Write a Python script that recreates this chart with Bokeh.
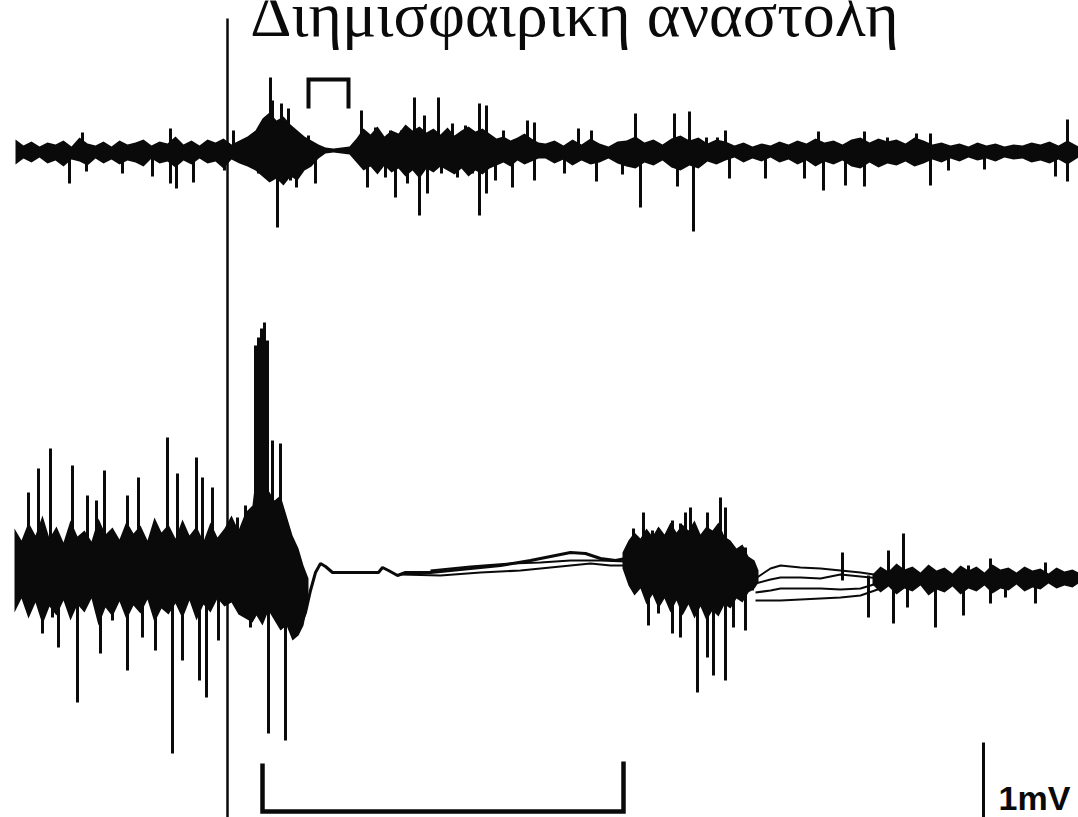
from bokeh.plotting import figure
from bokeh.models import Range1d
from bokeh.embed import file_html
from bokeh.resources import INLINE
from bokeh.core.properties import value

# ---------------- text ----------------
TITLE = "Διημισφαιρικη αναστολη"
SCALE_LABEL = "1mV"

# ---------------- markers (time / amplitude readings) ----------------
stimulus_t = 227
short_window = [308, 348]
long_window = [262, 623]
scale_bar_t = 983
scale_bar_span = [742, 817]

# ---------------- upper trace: dense activity envelope ----------------
top_env_x = [15, 23, 31, 39, 47, 55, 63, 71, 79, 87, 95, 103, 111, 119, 127, 135, 143, 151,
             159, 167, 175, 183, 191, 199, 207, 215, 223, 231, 239, 247,
             255, 262, 269, 276, 283, 290, 297, 304, 311, 318,
             325, 333, 341, 349,
             356, 363, 370, 377, 384, 391, 398, 405, 412, 419, 426, 433, 440, 447, 454,
             461, 468, 475, 482, 489, 496, 503, 510, 517, 524, 531, 538,
             545, 554, 563, 572, 581, 590, 599, 608, 617, 626, 635, 644, 653, 662, 671,
             680, 689, 698, 707, 716, 725, 734, 743, 752, 761, 770, 779, 788, 797, 806,
             815, 824, 833, 842, 851, 860, 869, 878, 887, 896, 905, 914, 923, 932, 941,
             950, 959, 968, 977, 986, 995, 1004, 1013, 1022, 1031, 1040, 1049, 1058,
             1067, 1078]
top_env_hi = [139, 145, 141, 146, 142, 144, 140, 146, 137, 143, 145, 141, 146, 140, 144, 142,
              139, 145, 141, 143, 136, 144, 140, 145, 139, 142, 138, 144, 140, 136,
              130, 118, 112, 120, 116, 124, 130, 136, 140, 144,
              147, 148, 147, 146,
              138, 128, 134, 126, 136, 130, 133, 124, 130, 126, 132, 128, 134, 127, 135,
              130, 126, 131, 128, 133, 138, 136, 140, 137, 133, 138, 142,
              143, 140, 145, 139, 144, 138, 143, 146, 141, 140, 136, 142, 139, 144, 138,
              135, 140, 137, 143, 139, 141, 145, 142, 146, 143, 145, 141, 144, 140, 143,
              138, 142, 140, 144, 139, 137, 142, 138, 141, 139, 143, 137, 140, 144, 142,
              145, 143, 146, 142, 145, 143, 146, 144, 145, 142, 144, 141, 145,
              140, 146]
top_env_lo = [164, 158, 162, 157, 163, 160, 166, 159, 161, 165, 158, 163, 159, 164, 160, 162,
              166, 158, 163, 161, 167, 160, 164, 158, 163, 161, 168, 159, 163, 166,
              170, 176, 182, 178, 185, 176, 180, 170, 166, 158,
              153, 152, 153, 154,
              162, 170, 166, 174, 165, 172, 168, 176, 170, 178, 168, 172, 166, 170, 174,
              168, 176, 170, 174, 168, 165, 162, 166, 160, 164, 161, 158,
              158, 163, 159, 165, 160, 164, 162, 158, 163, 166, 168, 162, 165, 160, 167,
              170, 165, 168, 161, 164, 160, 157, 162, 158, 161, 157, 162, 159, 164, 160,
              166, 161, 164, 160, 166, 168, 162, 167, 163, 165, 161, 166, 163, 159, 162,
              158, 161, 157, 160, 158, 161, 157, 159, 158, 162, 160, 163, 159,
              164, 157]

# upper trace: individual spikes (time, upper tip, lower tip)
top_spike_t = [69, 82, 86, 122, 152, 170, 176, 193, 224, 233, 258, 270, 272, 277, 281, 288,
               290, 296, 308, 315, 361, 367, 375, 385, 390, 395, 401, 407, 414, 419, 424,
               427, 438, 441, 452, 457, 465, 472, 479, 486, 495, 503, 512, 527, 534, 564,
               578, 591, 596, 622, 635, 640, 674, 677, 689, 693, 706, 717, 725, 729, 765,
               804, 818, 823, 845, 864, 887, 916, 930, 948, 984, 1055, 1067]
top_spike_hi = [150, 132, 150, 150, 150, 128, 150, 150, 150, 130, 130, 77, 100, 150, 103, 108,
                150, 150, 135, 150, 110, 150, 127, 150, 130, 150, 130, 150, 97, 150, 115,
                150, 97, 150, 123, 150, 125, 150, 103, 105, 150, 130, 150, 120, 122, 150,
                128, 130, 150, 150, 113, 150, 113, 150, 111, 150, 137, 137, 130, 150, 150,
                150, 131, 150, 150, 131, 137, 133, 133, 150, 150, 150, 119]
top_spike_lo = [183, 155, 171, 173, 176, 183, 188, 182, 170, 150, 173, 150, 165, 227, 160, 170,
                180, 187, 160, 183, 160, 187, 160, 177, 155, 197, 160, 183, 160, 215, 160,
                193, 160, 173, 160, 177, 160, 173, 215, 193, 180, 155, 187, 155, 180, 173,
                155, 155, 181, 174, 160, 207, 160, 186, 160, 231, 155, 155, 155, 178, 178,
                178, 155, 190, 185, 186, 155, 155, 185, 170, 169, 176, 181]

# ---------------- lower trace ----------------
bot_b1_x = [14, 21, 28, 35, 42, 49, 56, 63, 70, 77, 84, 91, 98, 105, 112, 119, 126, 133, 140,
            147, 154, 161, 168, 175, 182, 189, 196, 203, 210, 217, 224, 231, 238, 245, 252,
            256, 262, 268, 274, 280, 286, 292, 298, 303, 308]
bot_b1_hi = [528, 540, 522, 535, 515, 538, 526, 542, 520, 536, 530, 541, 518, 534, 527, 539,
             521, 533, 525, 540, 517, 532, 524, 538, 519, 535, 526, 541, 522, 537, 528, 515,
             530, 512, 505, 470, 460, 490, 500, 495, 515, 535, 548, 565, 578]
bot_b1_lo = [612, 598, 618, 602, 624, 606, 615, 600, 620, 604, 612, 598, 625, 607, 616, 601,
             619, 605, 613, 599, 622, 608, 614, 603, 618, 600, 620, 604, 612, 598, 606, 602,
             614, 618, 622, 615, 625, 610, 620, 630, 625, 640, 635, 625, 600]

bot_b2_x = [622, 628, 634, 640, 646, 652, 658, 664, 670, 676, 682, 688, 694, 700, 706, 712,
            718, 724, 730, 736, 742, 748, 754, 758]
bot_b2_hi = [552, 540, 532, 538, 528, 536, 526, 534, 522, 532, 524, 530, 520, 534, 526, 530,
             522, 536, 540, 548, 544, 556, 560, 570]
bot_b2_lo = [568, 585, 595, 588, 604, 594, 608, 598, 612, 600, 615, 604, 618, 606, 620, 610,
             616, 604, 608, 598, 602, 592, 588, 582]

bot_tail_x = [872, 880, 888, 896, 904, 912, 920, 928, 936, 944, 952, 960, 968, 976, 984, 992,
              1000, 1008, 1016, 1024, 1032, 1040, 1048, 1056, 1064, 1072, 1078]
bot_tail_hi = [574, 566, 571, 563, 569, 566, 572, 564, 570, 567, 573, 565, 570, 566, 572, 564,
               569, 567, 572, 566, 570, 568, 573, 567, 571, 569, 572]
bot_tail_lo = [584, 592, 586, 594, 588, 591, 585, 595, 589, 592, 586, 594, 588, 591, 585, 593,
               588, 590, 584, 591, 587, 589, 583, 588, 585, 587, 583]

# silent period: superimposed sweeps
silent1_x = [300, 305, 310, 315, 320, 325, 332, 360, 378, 382, 388, 397, 405, 430, 450, 470,
             500, 530, 550, 570, 585, 600, 615, 625]
silent1_y = [625, 612, 590, 572, 563, 566, 572, 572, 572, 567, 570, 575, 572, 572, 570, 568,
             565, 560, 556, 552, 553, 558, 560, 558]
silent2_x = [400, 440, 480, 520, 560, 590, 610, 625]
silent2_y = [574, 575, 572, 570, 566, 563, 565, 565]
silent3_x = [430, 470, 510, 540, 570, 600, 625]
silent3_y = [570, 566, 563, 562, 560, 560, 561]

# after rebound burst: diverging sweeps
post_x = [755, 770, 780, 800, 820, 840, 860, 880]
post_a = [578, 568, 565, 567, 568, 570, 572, 575]
post_b = [583, 579, 577, 577, 578, 574, 576, 578]
post_c = [592, 590, 588, 588, 588, 589, 588, 582]
post_d = [600, 600, 600, 599, 598, 597, 595, 588]

bot_spike_t = [28, 38, 42, 50, 52, 58, 72, 77, 87, 96, 100, 104, 112, 127, 138, 142, 155,
               167, 172, 177, 182, 196, 199, 202, 206, 212, 218, 237, 245, 250,
               255, 258, 261, 264, 267,
               272, 280, 285, 291, 296,
               633, 643, 648, 652, 658, 665, 672, 680, 685, 690, 697, 700, 707, 713, 720,
               725, 733, 745, 752,
               842, 868, 888, 893, 903, 907, 935, 963, 968, 990, 1005, 1035, 1045]
bot_spike_hi = [492, 468, 570, 448, 570, 570, 465, 570, 495, 500, 570, 470, 570, 495, 477, 570,
                570, 437, 570, 473, 570, 457, 570, 477, 570, 487, 570, 517, 505, 570,
                345, 337, 328, 322, 340,
                440, 443, 570, 540, 570,
                528, 512, 570, 530, 528, 535, 520, 523, 512, 507, 570, 547, 512, 570, 497,
                507, 553, 547, 570,
                552, 575, 550, 575, 533, 575, 575, 575, 565, 558, 575, 575, 562]
bot_spike_lo = [570, 570, 633, 570, 617, 647, 570, 702, 570, 570, 653, 570, 620, 670, 570, 637,
                650, 570, 753, 570, 660, 570, 680, 570, 697, 570, 640, 570, 570, 627,
                600, 600, 600, 600, 560,
                570, 570, 740, 600, 633,
                570, 570, 625, 570, 613, 570, 633, 637, 570, 570, 692, 570, 657, 675, 570,
                680, 627, 630, 590,
                580, 617, 580, 623, 580, 607, 627, 615, 580, 603, 597, 603, 580]
# second deep spike near 268
bot_deep_t = [268]
bot_deep_lo = [733]

# ---------------- figure ----------------
W, H = 1078, 817
p = figure(width=W, height=H, x_range=Range1d(0, W), y_range=Range1d(H, 0),
           output_backend="svg", toolbar_location=None, min_border=0)
p.axis.visible = False
p.grid.visible = False
p.outline_line_color = None
p.background_fill_color = "white"
p.border_fill_color = "white"

INK = "#0a0a0a"

# upper trace
p.varea(x=top_env_x, y1=top_env_hi, y2=top_env_lo, fill_color=INK)
p.segment(x0=top_spike_t, y0=top_spike_hi, x1=top_spike_t, y1=top_spike_lo,
          line_color=INK, line_width=3)

# lower trace
for xs, hi, lo in [(bot_b1_x, bot_b1_hi, bot_b1_lo), (bot_b2_x, bot_b2_hi, bot_b2_lo),
                   (bot_tail_x, bot_tail_hi, bot_tail_lo)]:
    p.varea(x=xs, y1=hi, y2=lo, fill_color=INK)
p.line(silent1_x, silent1_y, line_color=INK, line_width=3)
p.line(silent2_x, silent2_y, line_color=INK, line_width=2)
p.line(silent3_x, silent3_y, line_color=INK, line_width=2)
for ys in (post_a, post_b, post_c, post_d):
    p.line(post_x, ys, line_color=INK, line_width=2)
p.segment(x0=bot_spike_t, y0=bot_spike_hi, x1=bot_spike_t, y1=bot_spike_lo,
          line_color=INK, line_width=3)
p.segment(x0=bot_deep_t, y0=[570], x1=bot_deep_t, y1=bot_deep_lo, line_color=INK, line_width=3)

# stimulus marker
p.segment(x0=[stimulus_t], y0=[18], x1=[stimulus_t], y1=[H], line_color=INK, line_width=2.5)

# short window bracket (upper)
p.line([short_window[0], short_window[0], short_window[1], short_window[1]],
       [108, 79, 79, 108], line_color=INK, line_width=4, line_join="miter")
# long window bracket (lower)
p.line([long_window[0], long_window[0], long_window[1], long_window[1]],
       [763, 811, 811, 761], line_color=INK, line_width=4.5, line_join="miter")

# scale bar
p.segment(x0=[scale_bar_t], y0=[scale_bar_span[0]], x1=[scale_bar_t], y1=[scale_bar_span[1]],
          line_color=INK, line_width=3)
p.text(x=[998], y=[797], text=[SCALE_LABEL], text_font=value("Liberation Sans"),
       text_font_style="bold", text_font_size="34px", text_align="left",
       text_baseline="alphabetic", text_color=INK)

# title
p.text(x=[574], y=[14], text=[TITLE], text_font=value("Liberation Serif"),
       text_font_size="64px", text_align="center", text_baseline="alphabetic",
       text_color=INK)

open("out.html", "w").write(file_html(p, INLINE))
